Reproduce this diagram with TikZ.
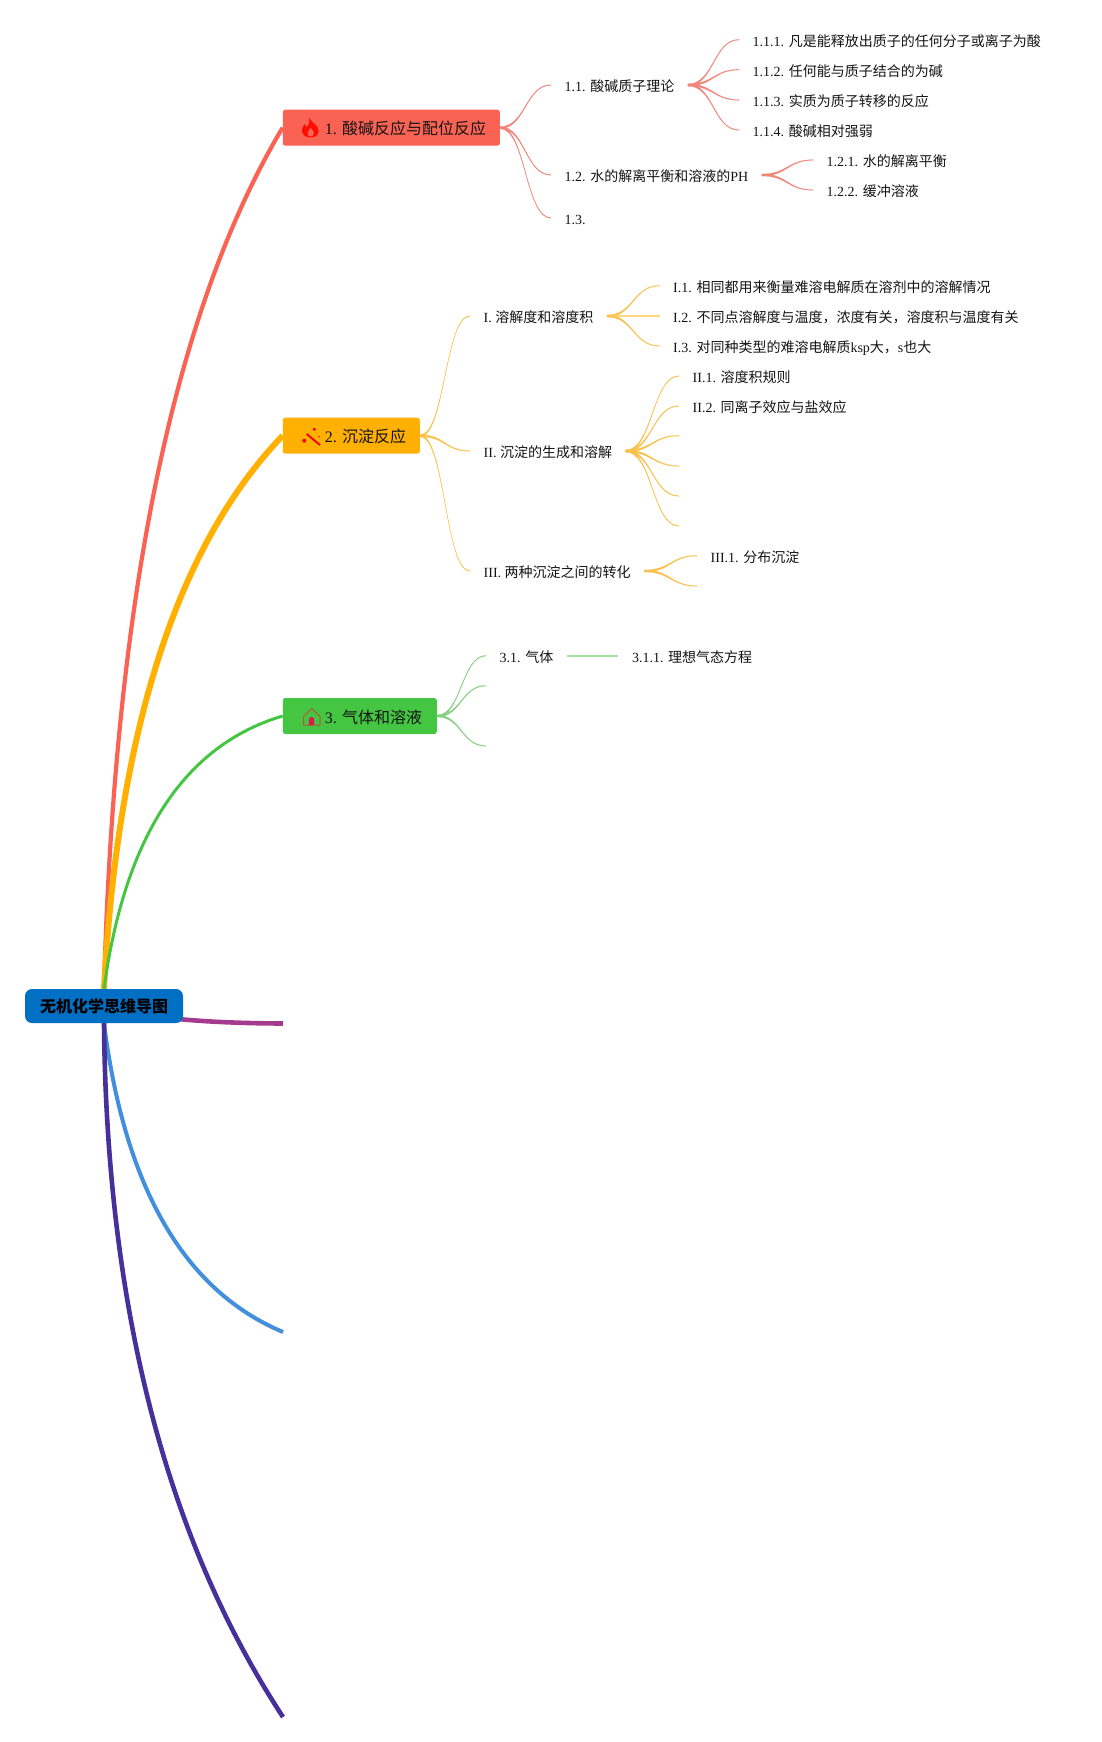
\documentclass[tikz,border=0pt]{standalone}
\usepackage{fontspec}
\setmainfont{Liberation Serif}
\newfontfamily\cjk{Noto Sans CJK SC}
\usetikzlibrary{calc,backgrounds}
\newcommand\C[1]{{\cjk #1}}
% tapered S-shaped connector
\newcommand\subl[3]{\filldraw[#1,line width=.2pt] let \p1=(#2),\p2=(#3),\p3=($(#2)!.5!(#3)$) in
  (\x1,{\y1+1.0pt}) .. controls (\x3,{\y1+1.0pt}) and (\x3,{\y2+.3pt}) .. (\x2,{\y2+.3pt})
  -- (\x2,{\y2-.3pt}) .. controls (\x3,{\y2-.3pt}) and (\x3,{\y1-1.0pt}) .. (\x1,{\y1-1.0pt}) -- cycle;}
% main branch: quadratic curve with control point #4
\newcommand\mainl[4]{\draw[#1] (#2) .. controls ($(#2)!.6667!(#4)$) and ($(#3)!.6667!(#4)$) .. (#3);}
\definecolor{cRed}{HTML}{FA6353}
\definecolor{cOrg}{HTML}{FFB000}
\definecolor{cGrn}{HTML}{45C643}
\definecolor{cMag}{HTML}{A53B8E}
\definecolor{cBlu}{HTML}{428FDD}
\definecolor{cInd}{HTML}{46309A}
\definecolor{cRoot}{HTML}{0070C5}
\definecolor{tRed}{HTML}{F0857A}
\definecolor{tOrg}{HTML}{F9C04A}
\definecolor{tGrn}{HTML}{86CF82}
\definecolor{cHouse}{HTML}{B5563F}
\definecolor{cDoor}{HTML}{DD1A50}
\tikzset{
  leaf/.style={anchor=west,inner xsep=13.5pt,inner ysep=0pt,text height=15pt,text depth=2pt,
    font=\fontsize{14pt}{16pt}\selectfont,text=black!92},
  topic/.style={anchor=west,inner sep=0pt,rounded corners=2.5pt,minimum height=36pt,
    text height=16pt,text depth=2pt,text=black!92,font=\fontsize{16pt}{18pt}\selectfont},
}
\begin{document}
\begin{tikzpicture}[x=1pt,y=-1pt]
\useasboundingbox (0,0) rectangle (1101,1742);
% root
\node[fill=cRoot,rounded corners=7pt,minimum width=158pt,minimum height=34pt,inner sep=0pt,
  text height=15pt,text depth=3pt,
  font=\fontsize{16pt}{18pt}\selectfont\bfseries,text=black] (root) at (104,1006) {\C{无机化学思维导图}};
% topics
\node[topic,fill=cRed] (n1) at (282.6,127.7) {\makebox[217pt][l]{\hspace{42pt}1. \C{酸碱反应与配位反应}}};
\node[topic,fill=cOrg] (n2) at (282.6,435.7) {\makebox[137pt][l]{\hspace{42pt}2. \C{沉淀反应}}};
\node[topic,fill=cGrn] (n3) at (282.6,716) {\makebox[154pt][l]{\hspace{42pt}3. \C{气体和溶液}}};
% free ends of the empty branches
\coordinate (e4) at (283,1023.5);
\coordinate (e5) at (283,1332);
\coordinate (e6) at (283,1717);
\coordinate (cp1) at (120,400);
\coordinate (cp2) at (125,600);
\coordinate (cp3) at (135,760);
\coordinate (cp4) at (160,1023);
\coordinate (cp5) at (135,1270);
\coordinate (cp6) at (108,1450);
\coordinate (s4) at (104,1006);
\begin{scope}[on background layer]
\mainl{cRed,line width=4.2pt}{root.north}{n1.west}{cp1}
\mainl{cOrg,line width=6pt}{root.north}{n2.west}{cp2}
\mainl{cGrn,line width=3pt}{root.north}{n3.west}{cp3}
\mainl{cMag,line width=4.6pt}{s4}{e4}{cp4}
\mainl{cBlu,line width=4pt}{root.south}{e5}{cp5}
\mainl{cInd,line width=4.6pt}{root.south}{e6}{cp6}
\end{scope}
% topic 1
\node[leaf] (n11) at (551,85) {1.1. \C{酸碱质子理论}};
\node[leaf] (n12) at (551,175) {1.2. \C{水的解离平衡和溶液的}PH};
\node[leaf] (n13) at (551,218) {1.3.};
\node[leaf] (n111) at (739,39.7) {1.1.1. \C{凡是能释放出质子的任何分子或离子为酸}};
\node[leaf] (n112) at (739,69.7) {1.1.2. \C{任何能与质子结合的为碱}};
\node[leaf] (n113) at (739,100) {1.1.3. \C{实质为质子转移的反应}};
\node[leaf] (n114) at (739,130) {1.1.4. \C{酸碱相对强弱}};
\node[leaf] (n121) at (813,160) {1.2.1. \C{水的解离平衡}};
\node[leaf] (n122) at (813,190) {1.2.2. \C{缓冲溶液}};
\subl{tRed}{n1.east}{n11.west}
\subl{tRed}{n1.east}{n12.west}
\subl{tRed}{n1.east}{n13.west}
\subl{tRed}{n11.east}{n111.west}
\subl{tRed}{n11.east}{n112.west}
\subl{tRed}{n11.east}{n113.west}
\subl{tRed}{n11.east}{n114.west}
\subl{tRed}{n12.east}{n121.west}
\subl{tRed}{n12.east}{n122.west}
% topic 2
\node[leaf] (n21) at (470,316) {I. \C{溶解度和溶度积}};
\node[leaf] (n22) at (470,451) {II. \C{沉淀的生成和溶解}};
\node[leaf] (n23) at (470,571) {III. \C{两种沉淀之间的转化}};
\node[leaf] (n211) at (659.5,285.7) {I.1. \C{相同都用来衡量难溶电解质在溶剂中的溶解情况}};
\node[leaf] (n212) at (659.5,316) {I.2. \C{不同点溶解度与温度，浓度有关，溶度积与温度有关}};
\node[leaf] (n213) at (659.5,346) {I.3. \C{对同种类型的难溶电解质}ksp\C{大，}s\C{也大}};
\node[leaf] (n221) at (679,376) {II.1. \C{溶度积规则}};
\node[leaf] (n222) at (679,406) {II.2. \C{同离子效应与盐效应}};
\coordinate (n223) at (679,435.7);
\coordinate (n224) at (679,466);
\coordinate (n225) at (679,496);
\coordinate (n226) at (679,526);
\node[leaf] (n231) at (697,555.7) {III.1. \C{分布沉淀}};
\coordinate (n232) at (697,586);
\subl{tOrg}{n2.east}{n21.west}
\subl{tOrg}{n2.east}{n22.west}
\subl{tOrg}{n2.east}{n23.west}
\subl{tOrg}{n21.east}{n211.west}
\draw[cOrg!50!white,line width=1.6pt] (n21.east) -- (n212.west);
\subl{tOrg}{n21.east}{n213.west}
\subl{tOrg}{n22.east}{n221.west}
\subl{tOrg}{n22.east}{n222.west}
\subl{tOrg}{n22.east}{n223}
\subl{tOrg}{n22.east}{n224}
\subl{tOrg}{n22.east}{n225}
\subl{tOrg}{n22.east}{n226}
\subl{tOrg}{n23.east}{n231.west}
\subl{tOrg}{n23.east}{n232}
% topic 3
\node[leaf] (n31) at (486,655.7) {3.1. \C{气体}};
\coordinate (n32) at (486,685.7);
\coordinate (n33) at (486,746);
\node[leaf] (n311) at (618.3,655.7) {3.1.1. \C{理想气态方程}};
\subl{tGrn}{n3.east}{n31.west}
\subl{tGrn}{n3.east}{n32}
\subl{tGrn}{n3.east}{n33}
\draw[cGrn!50!white,line width=1.6pt] (n31.east) -- (n311.west);
% icons
\fill[red!90!orange] (309.5,118) .. controls (311,122) and (318.5,125) .. (318.5,131)
  .. controls (318.5,135) and (315,137.5) .. (310.5,137.5)
  .. controls (306,137.5) and (302,135) .. (302,130.5)
  .. controls (302,127.5) and (303.5,125.5) .. (304.8,124)
  .. controls (305.2,126) and (306,127) .. (307,127)
  .. controls (308.5,125) and (309.8,122) .. (309.5,118) -- cycle;
\fill[cRed] (310.5,136.5) .. controls (307.5,136) and (306.5,133.5) .. (308,131.5)
  .. controls (309,130.5) and (310,129.5) .. (310.3,127.5)
  .. controls (312,129.5) and (314.5,131.5) .. (314,133.5)
  .. controls (313.5,135.5) and (312,136.5) .. (310.5,136.5) -- cycle;
\fill[red!85!purple] (314.3,429.3) circle (1.7pt);
\fill[red!85!purple] (304.3,440.7) circle (2pt);
\fill[red!70!orange] (319,436.7) circle (1pt);
\draw[red!85!purple,line width=1.9pt] (306.7,434) -- (320,445);
\draw[cHouse,line width=1pt] (303.5,725) -- (303.5,716.5) -- (311.7,708.5) -- (320,716.5) -- (320,725) -- cycle;
\fill[cDoor] (308.8,725) -- (308.8,719.5) arc[start angle=180,end angle=0,radius=2.7pt] -- (314.2,725) -- cycle;
\end{tikzpicture}
\end{document}
